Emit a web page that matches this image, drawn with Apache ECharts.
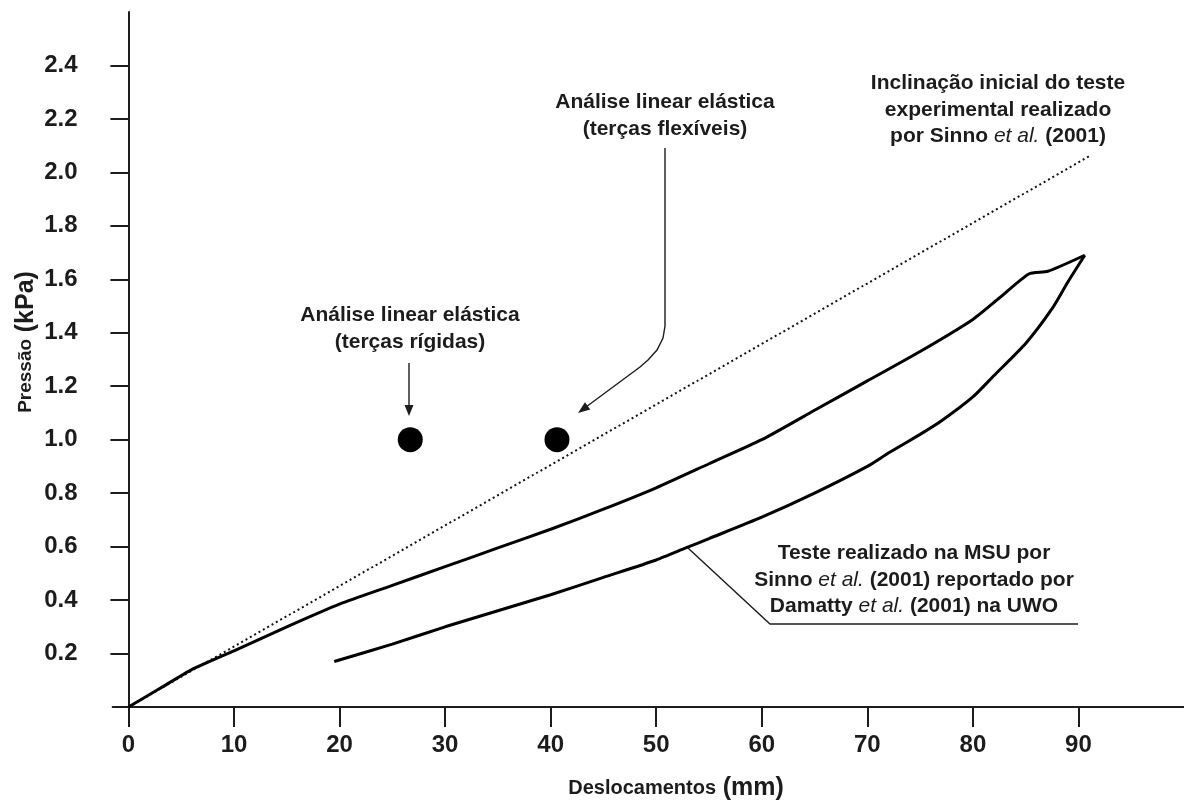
<!DOCTYPE html>
<html>
<head>
<meta charset="utf-8">
<script src="https://cdn.jsdelivr.net/npm/echarts@6/dist/echarts.min.js"></script>
<style>
  html, body { margin: 0; padding: 0; background: #fff; }
  #chart { width: 1184px; height: 803px; }
</style>
</head>
<body>
<div id="chart"></div>
<script>
// tick values
const xTicks = [0, 10, 20, 30, 40, 50, 60, 70, 80, 90];
const yTicks = [0.2, 0.4, 0.6, 0.8, 1.0, 1.2, 1.4, 1.6, 1.8, 2.0, 2.2, 2.4];

// ensaio MSU - carregamento
const loadX = [0, 3, 6, 10, 15, 20, 25, 30, 35, 40, 45, 50, 55, 60, 65, 70, 75, 80, 82.5, 85.3, 87.1, 90.6];
const loadY = [0, 0.07, 0.14, 0.21, 0.30, 0.385, 0.455, 0.525, 0.595, 0.665, 0.74, 0.82, 0.91, 1.00, 1.11, 1.22, 1.33, 1.45, 1.53, 1.62, 1.63, 1.69];
// descarregamento
const unloadX = [90.6, 89, 87.5, 85, 82, 80, 77, 75, 72, 70, 65, 60, 55, 52.8, 50, 45, 40, 35, 30, 25, 19.5];
const unloadY = [1.69, 1.59, 1.49, 1.36, 1.24, 1.16, 1.07, 1.02, 0.95, 0.90, 0.80, 0.71, 0.63, 0.595, 0.55, 0.485, 0.42, 0.36, 0.30, 0.235, 0.17];

// inclinação inicial (reta pontilhada)
const slopeX = [0, 91];
const slopeY = [0, 2.06];

// análise linear elástica: rígidas, flexíveis
const elasticX = [26.7, 40.6];
const elasticY = [1.0, 1.0];

const FONT = '"Liberation Sans", Arial, sans-serif';
const INK = '#1c1c1c';

const zip = (xs, ys) => xs.map((x, i) => [x, ys[i]]);

const chart = echarts.init(document.getElementById('chart'));

// arrow head helper (annotation only)
function arrowHead(tip, from, len, half) {
  const dx = tip[0] - from[0], dy = tip[1] - from[1];
  const d = Math.sqrt(dx * dx + dy * dy);
  const ux = dx / d, uy = dy / d;
  const bx = tip[0] - ux * len, by = tip[1] - uy * len;
  return {
    type: 'polygon',
    shape: { points: [tip, [bx - uy * half, by + ux * half], [bx + uy * half, by - ux * half]] },
    style: { fill: INK }
  };
}

const textStyle = (txt) => ({
  text: txt,
  fill: INK,
  fontFamily: FONT,
  fontWeight: 'bold',
  fontSize: 21,
  lineHeight: 26.5,
  align: 'center',
  verticalAlign: 'top',
  rich: {
    i: { fontFamily: FONT, fontStyle: 'italic', fontWeight: 'normal', fontSize: 21, lineHeight: 26.5, fill: INK }
  }
});

const option = {
  animation: false,
  backgroundColor: '#fff',
  grid: { left: 112.6, top: 12, width: 1075, height: 695 },
  xAxis: {
    type: 'value',
    min: -1.5,
    max: 100,
    splitLine: { show: false },
    axisLine: { lineStyle: { color: INK, width: 2 } },
    axisTick: { show: true, customValues: xTicks, length: 20, lineStyle: { color: INK, width: 2 } },
    axisLabel: {
      customValues: xTicks,
      margin: 26,
      color: INK,
      fontFamily: FONT,
      fontWeight: 'bold',
      fontSize: 24
    }
  },
  yAxis: {
    type: 'value',
    min: 0,
    max: 2.6,
    splitLine: { show: false },
    axisLine: { onZero: true, lineStyle: { color: INK, width: 2 } },
    axisTick: { show: true, customValues: yTicks, length: 18, lineStyle: { color: INK, width: 2 } },
    axisLabel: {
      customValues: yTicks,
      margin: 35,
      color: INK,
      fontFamily: FONT,
      fontWeight: 'bold',
      fontSize: 24,
      formatter: (v) => v.toFixed(1)
    }
  },
  series: [
    {
      name: 'inclinacao',
      type: 'line',
      data: zip(slopeX, slopeY),
      symbol: 'none',
      lineStyle: { color: '#111', width: 2, type: [2, 3] },
      z: 2
    },
    {
      name: 'carregamento',
      type: 'line',
      data: zip(loadX, loadY),
      symbol: 'none',
      smooth: 0.2,
      lineStyle: { color: '#000', width: 3 },
      z: 3
    },
    {
      name: 'descarregamento',
      type: 'line',
      data: zip(unloadX, unloadY),
      symbol: 'none',
      smooth: 0.2,
      lineStyle: { color: '#000', width: 3 },
      z: 3
    },
    {
      name: 'elastica',
      type: 'scatter',
      data: zip(elasticX, elasticY),
      symbol: 'circle',
      symbolSize: 25,
      itemStyle: { color: '#000', opacity: 1 },
      z: 4
    }
  ],
  graphic: [
    // títulos dos eixos
    {
      type: 'text',
      x: 26, y: 342,
      rotation: Math.PI / 2,
      style: {
        text: '{a|Pressão}  {b|(kPa)}',
        fill: INK,
        align: 'center',
        verticalAlign: 'middle',
        rich: {
          a: { fontFamily: FONT, fontWeight: 'bold', fontSize: 19, fill: INK },
          b: { fontFamily: FONT, fontWeight: 'bold', fontSize: 25, fill: INK }
        }
      }
    },
    {
      type: 'text',
      x: 676, y: 788,
      style: {
        text: '{a|Deslocamentos}  {b|(mm)}',
        fill: INK,
        align: 'center',
        verticalAlign: 'middle',
        rich: {
          a: { fontFamily: FONT, fontWeight: 'bold', fontSize: 20, fill: INK },
          b: { fontFamily: FONT, fontWeight: 'bold', fontSize: 25, fill: INK }
        }
      }
    },
    // anotações
    { type: 'text', x: 998, y: 70, style: textStyle('Inclinação inicial do teste\nexperimental realizado\npor Sinno {i|et al.} (2001)') },
    { type: 'text', x: 665, y: 89, style: textStyle('Análise linear elástica\n(terças flexíveis)') },
    { type: 'text', x: 410, y: 302, style: textStyle('Análise linear elástica\n(terças rígidas)') },
    { type: 'text', x: 914, y: 540, style: textStyle('Teste realizado na MSU por\nSinno {i|et al.} (2001) reportado por\nDamatty {i|et al.} (2001) na UWO') },
    // seta rígidas
    { type: 'line', shape: { x1: 409, y1: 363, x2: 409, y2: 406 }, style: { stroke: INK, lineWidth: 1.4 } },
    arrowHead([409, 416], [409, 363], 11, 4.5),
    // seta flexíveis
    {
      type: 'polyline',
      shape: { points: [[665, 148], [665, 326], [663, 338], [657, 350], [648, 360], [640, 367], [586, 407]] },
      style: { stroke: INK, lineWidth: 1.4, fill: null }
    },
    arrowHead([578, 413], [640, 367], 12, 4.5),
    // linha guia do teste
    {
      type: 'polyline',
      shape: { points: [[688, 548], [770, 624], [1078, 624]] },
      style: { stroke: INK, lineWidth: 1.4, fill: null }
    }
  ]
};

chart.setOption(option);
</script>
</body>
</html>
